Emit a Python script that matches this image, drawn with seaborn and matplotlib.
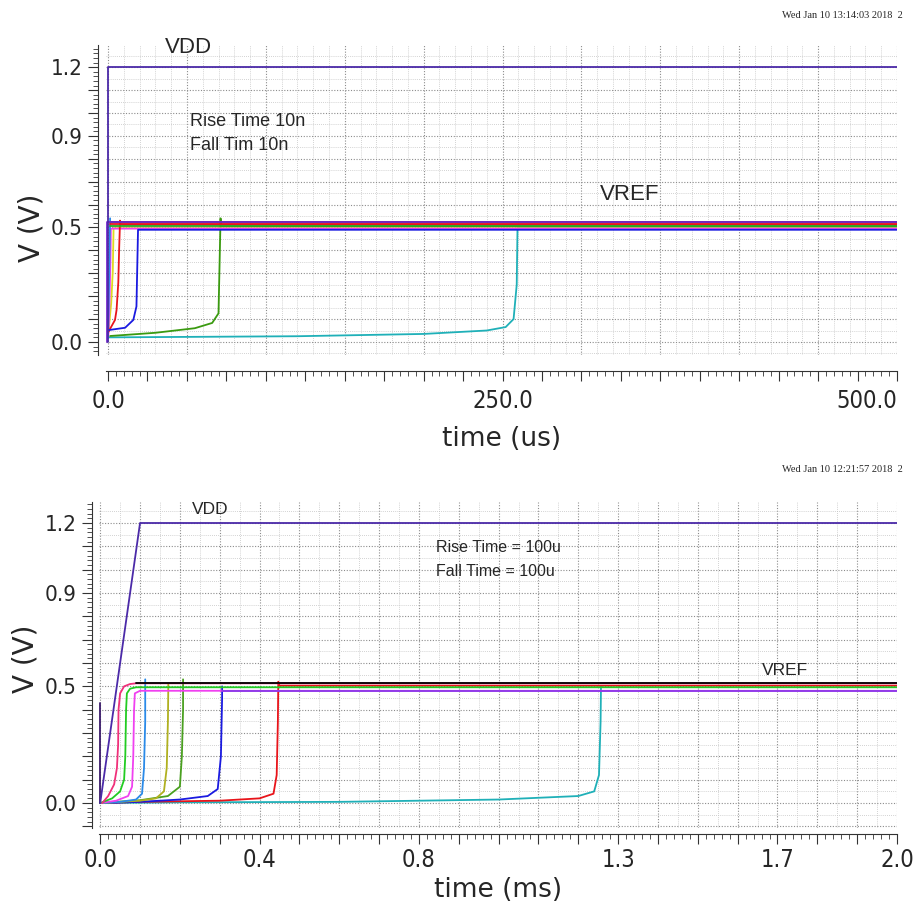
import numpy as np
import pandas as pd
import matplotlib
matplotlib.use("Agg")
import matplotlib.pyplot as plt
import seaborn as sns
from matplotlib.ticker import MultipleLocator, FuncFormatter

# ---------------- TOP CHART DATA (time in us, volts) ----------------
top_teal_t = [0, 120, 200, 240, 252, 257, 259, 259.5, 500]
top_teal_v = [0.02, 0.025, 0.035, 0.05, 0.065, 0.10, 0.25, 0.50, 0.50]
top_green_t = [1.3, 30, 55, 66, 70, 71.3, 71.5, 500]
top_green_v = [0.026, 0.04, 0.06, 0.083, 0.125, 0.54, 0.505, 0.505]
top_yellow_t = [0.3, 2.0, 3.0, 3.5, 500]
top_yellow_v = [0.045, 0.17, 0.31, 0.497, 0.497]
top_magenta_t = [0.2, 0.8, 1.5, 1.8, 500]
top_magenta_v = [0.03, 0.15, 0.35, 0.495, 0.495]
top_lightblue_t = [0.0, 0.4, 1.0, 1.3]
top_lightblue_v = [0.02, 0.17, 0.40, 0.54]
top_red_t = [0.3, 4.4, 5.4, 6.5, 7.0, 7.6, 7.8, 500]
top_red_v = [0.045, 0.096, 0.14, 0.26, 0.40, 0.53, 0.513, 0.513]
top_blue_t = [0.5, 10.8, 16, 18, 19, 19.2, 500]
top_blue_v = [0.052, 0.062, 0.096, 0.155, 0.49, 0.49, 0.49]
top_greenref_t = [1.5, 500]
top_greenref_v = [0.505, 0.505]
top_redref_t = [1.5, 500]
top_redref_v = [0.513, 0.513]
top_black_t = [1.5, 500]
top_black_v = [0.522, 0.522]
top_purple_t = [-0.8, -0.8, 500]
top_purple_v = [0.0, 0.522, 0.522]
top_vdd_t = [0, 0, 500]
top_vdd_v = [0.0, 1.2, 1.2]

# ---------------- BOTTOM CHART DATA (time in ms, volts) ----------------
bot_teal_t = [0, 0.2, 0.6, 1.0, 1.2, 1.24, 1.252, 1.256, 1.257]
bot_teal_v = [0, 0.003, 0.005, 0.015, 0.03, 0.05, 0.12, 0.35, 0.50]
bot_red_t = [0, 0.1, 0.3, 0.4, 0.435, 0.443, 0.446, 0.447, 0.45, 2.0]
bot_red_v = [0, 0.005, 0.01, 0.02, 0.04, 0.12, 0.35, 0.52, 0.503, 0.503]
bot_blue_t = [0, 0.1, 0.2, 0.27, 0.295, 0.303, 0.306, 0.306]
bot_blue_v = [0, 0.005, 0.015, 0.03, 0.06, 0.20, 0.45, 0.50]
bot_green2_t = [0, 0.1, 0.17, 0.2, 0.205, 0.208, 0.208]
bot_green2_v = [0, 0.012, 0.03, 0.07, 0.20, 0.40, 0.53]
bot_olive_t = [0, 0.1, 0.14, 0.16, 0.167, 0.17, 0.171]
bot_olive_v = [0, 0.01, 0.02, 0.05, 0.15, 0.35, 0.51]
bot_dblue_t = [0, 0.05, 0.09, 0.105, 0.11, 0.113, 0.113]
bot_dblue_v = [0, 0.005, 0.015, 0.04, 0.15, 0.35, 0.53]
bot_magenta_t = [0, 0.04, 0.07, 0.08, 0.083, 0.085, 0.087, 0.1, 2.0]
bot_magenta_v = [0, 0.01, 0.03, 0.07, 0.2, 0.4, 0.47, 0.481, 0.481]
bot_lime_t = [0, 0.03, 0.05, 0.06, 0.063, 0.065, 0.067, 0.075, 0.09, 2.0]
bot_lime_v = [0, 0.02, 0.05, 0.10, 0.20, 0.40, 0.47, 0.49, 0.496, 0.496]
bot_pink_t = [0.005, 0.02, 0.035, 0.042, 0.045, 0.046, 0.05, 0.06, 0.075, 0.09, 2.0]
bot_pink_v = [0, 0.03, 0.08, 0.15, 0.25, 0.40, 0.47, 0.50, 0.51, 0.513, 0.513]
bot_black_t = [0.09, 2.0]
bot_black_v = [0.513, 0.513]
bot_purple_t = [0.306, 2.0]
bot_purple_v = [0.481, 0.481]
bot_indigo_t = [0.0, 0.0]
bot_indigo_v = [0.0, 0.43]
bot_vdd_t = [0, 0.1, 2.0]
bot_vdd_v = [0, 1.2, 1.2]

# ---------------- ticks / labels ----------------
top_xtick_vals = [0, 250, 500]
top_xtick_labels = ["0.0", "250.0", "500.0"]
top_ytick_vals = [0.0, 0.5, 0.9, 1.2]
top_ytick_labels = ["0.0", "0.5", "0.9", "1.2"]
bot_xtick_vals = [0.0, 0.4, 0.8, 1.3, 1.7, 2.0]
bot_xtick_labels = ["0.0", "0.4", "0.8", "1.3", "1.7", "2.0"]
bot_ytick_vals = [0.0, 0.5, 0.9, 1.2]
bot_ytick_labels = ["0.0", "0.5", "0.9", "1.2"]

top_series = [
    ("teal", top_teal_t, top_teal_v, "#1fb0b8"),
    ("green", top_green_t, top_green_v, "#3a9a10"),
    ("yellow", top_yellow_t, top_yellow_v, "#e0d820"),
    ("magenta", top_magenta_t, top_magenta_v, "#f040f0"),
    ("lightblue", top_lightblue_t, top_lightblue_v, "#2a8ae8"),
    ("red", top_red_t, top_red_v, "#e8141a"),
    ("blue", top_blue_t, top_blue_v, "#1a1ae0"),
    ("greenref", top_greenref_t, top_greenref_v, "#22aa22"),
    ("redref", top_redref_t, top_redref_v, "#e8141a"),
    ("black", top_black_t, top_black_v, "#000000"),
    ("purple", top_purple_t, top_purple_v, "#7a2ad0"),
    ("vdd", top_vdd_t, top_vdd_v, "#4b2aa8"),
]
bot_series = [
    ("teal", bot_teal_t, bot_teal_v, "#1fb0b8"),
    ("red", bot_red_t, bot_red_v, "#e8141a"),
    ("blue", bot_blue_t, bot_blue_v, "#1a1ae0"),
    ("green2", bot_green2_t, bot_green2_v, "#4aa020"),
    ("olive", bot_olive_t, bot_olive_v, "#b0b020"),
    ("dblue", bot_dblue_t, bot_dblue_v, "#2a8ae8"),
    ("magenta", bot_magenta_t, bot_magenta_v, "#f040f0"),
    ("lime", bot_lime_t, bot_lime_v, "#22cc22"),
    ("pink", bot_pink_t, bot_pink_v, "#f0307a"),
    ("black", bot_black_t, bot_black_v, "#000000"),
    ("purple", bot_purple_t, bot_purple_v, "#8a3ae8"),
    ("indigo", bot_indigo_t, bot_indigo_v, "#3a1a6a"),
    ("vdd", bot_vdd_t, bot_vdd_v, "#4b2aa8"),
]

sns.set_style("white")
plt.rcParams["font.family"] = ["DejaVu Sans"]

W, H = 918, 911
fig = plt.figure(figsize=(W / 100, H / 100), dpi=100)
fig.patch.set_facecolor("white")


def frame(l, t, r, b):
    return [l / W, 1 - b / H, (r - l) / W, (b - t) / H]


def fmt(vals, labels):
    def f(x, pos):
        for v, lab in zip(vals, labels):
            if abs(x - v) < 1e-6:
                return lab
        return ""
    return FuncFormatter(f)


def draw_lines(ax, series):
    rows = []
    for name, ts, vs, _ in series:
        for i, (t, v) in enumerate(zip(ts, vs)):
            rows.append((name, i, t, v))
    df = pd.DataFrame(rows, columns=["series", "idx", "t", "v"])
    pal = {name: c for name, _, _, c in series}
    order = [name for name, _, _, _ in series]
    sns.lineplot(data=df, x="t", y="v", hue="series", hue_order=order,
                 palette=pal, units="series", estimator=None, sort=False,
                 legend=False, linewidth=1.3, ax=ax)


def style_axes(ax, xlim, ylim, xmaj, xmin, gx_maj, gx_min, xoff, yoff,
               xvals, xlabels, yvals, ylabels, xlabel_txt, xpad):
    ax.set_xlim(*xlim)
    ax.set_ylim(*ylim)
    # grid
    x0 = np.ceil(xlim[0] / gx_min) * gx_min
    for x in np.arange(x0, xlim[1] + 1e-9, gx_min):
        is_maj = abs(round(x / gx_maj) * gx_maj - x) < 1e-9
        ax.axvline(x, color="#8c8c8c" if is_maj else "#c4c4c4",
                   ls=(0, (1, 1.5)), lw=0.8 if is_maj else 0.6, zorder=0)
    y0 = np.ceil(ylim[0] / 0.05) * 0.05
    for y in np.arange(y0, ylim[1] + 1e-9, 0.05):
        is_maj = abs(round(y / 0.1) * 0.1 - y) < 1e-9
        ax.axhline(y, color="#8c8c8c" if is_maj else "#c4c4c4",
                   ls=(0, (1, 1.5)), lw=0.8 if is_maj else 0.6, zorder=0)
    for s in ["top", "right"]:
        ax.spines[s].set_visible(False)
    ax.spines["left"].set_position(("outward", yoff))
    ax.spines["bottom"].set_position(("outward", xoff))
    for s in ["left", "bottom"]:
        ax.spines[s].set_color("#333333")
        ax.spines[s].set_linewidth(0.8)
    ax.xaxis.set_major_locator(MultipleLocator(xmaj))
    ax.xaxis.set_minor_locator(MultipleLocator(xmin))
    ax.yaxis.set_major_locator(MultipleLocator(0.1))
    ax.yaxis.set_minor_locator(MultipleLocator(0.02))
    ax.xaxis.set_major_formatter(fmt(xvals, xlabels))
    ax.yaxis.set_major_formatter(fmt(yvals, ylabels))
    ax.tick_params(which="major", length=7, width=0.8, color="#333333",
                   direction="out", left=True, bottom=True)
    ax.tick_params(which="minor", length=3.5, width=0.6, color="#333333",
                   direction="out", left=True, bottom=True)
    ax.tick_params(axis="x", labelsize=17, pad=xpad)
    ax.tick_params(axis="y", labelsize=16, pad=4)
    for lab in ax.get_xticklabels() + ax.get_yticklabels():
        lab.set_fontstretch("condensed")
    ax.set_xlabel(xlabel_txt, fontsize=19)
    ax.set_ylabel("V (V)", fontsize=20)
    ax.set_facecolor("white")


# ---------------- TOP ----------------
ax1 = fig.add_axes(frame(106, 45, 897, 355))
draw_lines(ax1, top_series)
style_axes(ax1, (-1.3, 500), (-0.057, 1.297), 25, 5, 50, 10, 11.5, 5.8,
           top_xtick_vals, top_xtick_labels, top_ytick_vals, top_ytick_labels,
           "time (us)", 6)
ax1.xaxis.set_label_coords(0.5, -0.23)
ax1.yaxis.set_label_coords(-0.077, 0.41)
ax1.text(36, 1.284, "VDD", fontsize=16, family="Liberation Sans",
         ha="left", va="center")
ax1.text(312, 0.642, "VREF", fontsize=16, family="Liberation Sans",
         ha="left", va="center")
ax1.text(52, 0.965, "Rise Time 10n", fontsize=13, family="Liberation Sans",
         ha="left", va="center")
ax1.text(52, 0.856, "Fall Tim 10n", fontsize=13, family="Liberation Sans",
         ha="left", va="center")

# ---------------- BOTTOM ----------------
ax2 = fig.add_axes(frame(99, 502, 897, 828))
draw_lines(ax2, bot_series)
style_axes(ax2, (-0.003, 2.0), (-0.107, 1.29), 0.1, 0.02, 0.1, 0.05, 4.3, 5.0,
           bot_xtick_vals, bot_xtick_labels, bot_ytick_vals, bot_ytick_labels,
           "time (ms)", 3)
ax2.xaxis.set_label_coords(0.5, -0.15)
ax2.yaxis.set_label_coords(-0.074, 0.52)
ax2.text(0.231, 1.256, "VDD", fontsize=12.5, family="Liberation Sans",
         ha="left", va="center")
ax2.text(1.661, 0.57, "VREF", fontsize=12.5, family="Liberation Sans",
         ha="left", va="center")
ax2.text(0.843, 1.093, "Rise Time = 100u", fontsize=11.5,
         family="Liberation Sans", ha="left", va="center")
ax2.text(0.843, 0.994, "Fall Time = 100u", fontsize=11.5,
         family="Liberation Sans", ha="left", va="center")

# last top tick label right aligned as in reference
fig.canvas.draw()
for lab in ax1.get_xticklabels():
    if lab.get_text() == "500.0":
        lab.set_ha("right")
        lab.set_x(500 + 10)

# timestamps
fig.text(903 / W, 1 - 15 / H, "Wed Jan 10 13:14:03 2018  2", fontsize=7.5,
         family="Liberation Serif", ha="right", va="center")
fig.text(903 / W, 1 - 470 / H, "Wed Jan 10 12:21:57 2018  2", fontsize=7.5,
         family="Liberation Serif", ha="right", va="center")

fig.savefig("out.png", dpi=100, facecolor="white")
